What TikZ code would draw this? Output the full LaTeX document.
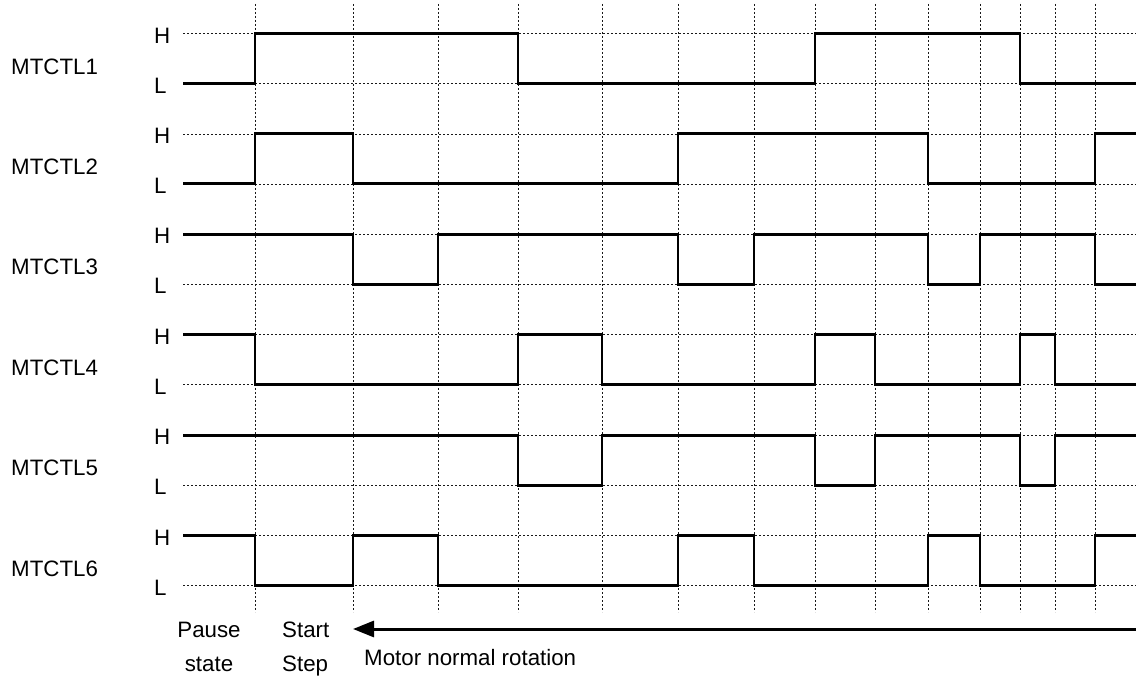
\documentclass[tikz,border=0pt]{standalone}
\usepackage{fontspec}
\setmainfont{Liberation Sans}
\usepackage{tikz}
\usetikzlibrary{arrows.meta, positioning}

\begin{document}
\begin{tikzpicture}[
            x=1pt, y=-1pt,
            signal/.style={line width=2.8pt, line join=miter},
            gridline/.style={line width=0.75pt, black!90, dash pattern=on 2pt off 2pt},
            level/.style={anchor=west, inner sep=0pt, font=\fontsize{22.3}{26}\selectfont},
            chname/.style={anchor=west, inner sep=0pt, font=\fontsize{22.3}{26}\selectfont},
            note/.style={inner sep=0pt, font=\fontsize{22.3}{26}\selectfont},
            motor/.style={line width=3pt, -{Triangle[length=21pt, width=16pt]}}
        ]
        \useasboundingbox (0,0) rectangle (1136,679);

        % Grid (vertical)
        \foreach \x in {255,353,438,518,602,678,754,815,875,928,980,1020,1055,1095}
            \draw[gridline] (\x,4) -- (\x,612);

        % Rows: channel name, H/L marks, H/L grid lines
        \foreach \r in {1,...,6} {
            \pgfmathsetmacro{\h}{33.5+100.4*(\r-1)}
            \pgfmathsetmacro{\l}{\h+50}
            \draw[gridline] (183,\h) -- (1136,\h);
            \draw[gridline] (183,\l) -- (1136,\l);
            \node[chname] (ch\r) at (11,\h+33) {MTCTL\r};
            \node[level] (h\r) at (154,\h+2) {H};
            \node[level] (l\r) at (154,\l+2) {L};
        }

        % Signals (H = 33.5, L = 83.5 in each row)
        \begin{scope}[shift={(0,0)}]
            \draw[signal] (183,83.5) -| (255,33.5) -| (518,83.5) -| (815,33.5) -| (1020,83.5) -- (1136,83.5);
        \end{scope}
        \begin{scope}[shift={(0,100.4)}]
            \draw[signal] (183,83.5) -| (255,33.5) -| (353,83.5) -| (678,33.5) -| (928,83.5) -| (1095,33.5) -- (1136,33.5);
        \end{scope}
        \begin{scope}[shift={(0,200.8)}]
            \draw[signal] (183,33.5) -| (353,83.5) -| (438,33.5) -| (678,83.5) -| (754,33.5) -| (928,83.5) -| (980,33.5) -| (1095,83.5) -- (1136,83.5);
        \end{scope}
        \begin{scope}[shift={(0,301.2)}]
            \draw[signal] (183,33.5) -| (255,83.5) -| (518,33.5) -| (602,83.5) -| (815,33.5) -| (875,83.5) -| (1020,33.5) -| (1055,83.5) -- (1136,83.5);
        \end{scope}
        \begin{scope}[shift={(0,401.6)}]
            \draw[signal] (183,33.5) -| (518,83.5) -| (602,33.5) -| (815,83.5) -| (875,33.5) -| (1020,83.5) -| (1055,33.5) -- (1136,33.5);
        \end{scope}
        \begin{scope}[shift={(0,502)}]
            \draw[signal] (183,33.5) -| (255,83.5) -| (353,33.5) -| (438,83.5) -| (678,33.5) -| (754,83.5) -| (928,33.5) -| (980,83.5) -| (1095,33.5) -- (1136,33.5);
        \end{scope}

        % Bottom notes
        \node[note, anchor=base] (pause) at (209,637) {Pause};
        \node[note, anchor=base] (state) at (209,671.5) {state};
        \node[note, anchor=base west] (start) at (282,637) {Start};
        \node[note, anchor=base west] (step) at (282,671.5) {Step};
        \node[note, anchor=base west] (rotation) at (364,665) {Motor normal rotation};

        \coordinate (tail) at (1136,629);
        \coordinate (tip) at (353,629);
        \draw[motor] (tail) -- (tip);

    \end{tikzpicture}
\end{document}
